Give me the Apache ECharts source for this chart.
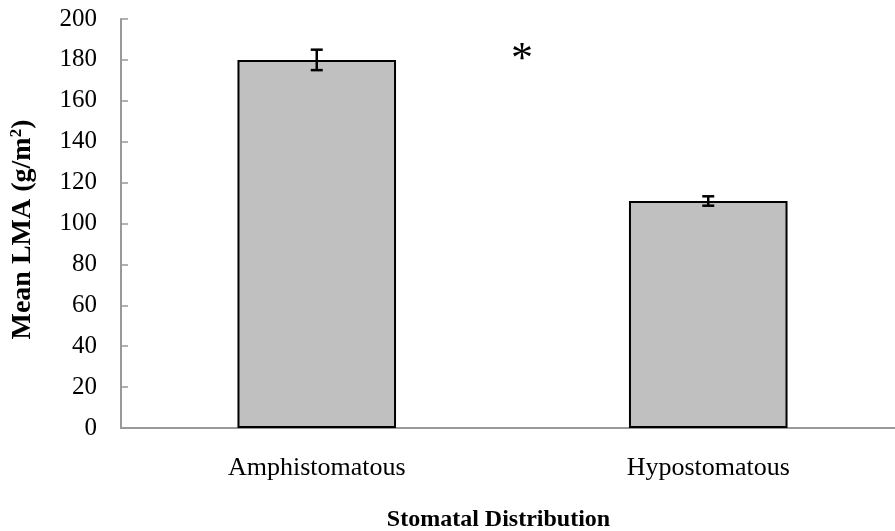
<!DOCTYPE html>
<html>
<head>
<meta charset="utf-8">
<script src="https://cdn.jsdelivr.net/npm/echarts@6/dist/echarts.min.js"></script>
<style>html,body{margin:0;padding:0;background:#fff}#c{width:895px;height:531px}</style>
</head>
<body>
<div id="c"></div>
<script>
var categories = ['Amphistomatous', 'Hypostomatous'];
var meanLMA = [180, 111];
var errLMA = [5, 2.3];
var yTicks = [0, 20, 40, 60, 80, 100, 120, 140, 160, 180, 200];

var FONT = '"Liberation Serif", "Times New Roman", serif';
var chart = echarts.init(document.getElementById('c'));
var errData = categories.map(function (c, i) { return [i, meanLMA[i] - errLMA[i], meanLMA[i] + errLMA[i]]; });

chart.setOption({
  animation: false,
  grid: { left: 121, top: 19, bottom: 103, right: -9, containLabel: false, outerBoundsMode: 'none' },
  xAxis: {
    type: 'category',
    data: categories,
    axisLine: { lineStyle: { color: '#999', width: 2 } },
    axisTick: { inside: true, length: 6, lineStyle: { color: '#999', width: 1.5 } },
    axisLabel: { color: '#000', fontFamily: FONT, fontSize: 26, margin: 27 },
    name: 'Stomatal Distribution',
    nameLocation: 'middle',
    nameGap: 80,
    nameTextStyle: { color: '#000', fontFamily: FONT, fontSize: 24, fontWeight: 'bold', padding: [0, 28, 0, 0] }
  },
  yAxis: {
    type: 'value',
    min: yTicks[0], max: yTicks[yTicks.length - 1], interval: 20,
    splitLine: { show: false },
    axisLine: { show: true, lineStyle: { color: '#999', width: 2 } },
    axisTick: { show: true, inside: true, length: 7, lineStyle: { color: '#999', width: 1.5 } },
    axisLabel: { color: '#000', fontFamily: FONT, fontSize: 25, margin: 24 },
    name: '{a|Mean LMA (g/m}{s|2}{a|)}',
    nameLocation: 'middle',
    nameGap: 84,
    nameTextStyle: {
      padding: [0, 12, 0, 0],
      rich: {
        a: { color: '#000', fontFamily: FONT, fontSize: 28, fontWeight: 'bold' },
        s: { color: '#000', fontFamily: FONT, fontSize: 17, fontWeight: 'bold', verticalAlign: 'top', padding: [0, 0, 12, 0] }
      }
    }
  },
  series: [
    {
      type: 'bar',
      data: meanLMA,
      barWidth: '40.5%',
      itemStyle: { color: '#c0c0c0', borderColor: '#000', borderWidth: 2 }
    },
    {
      type: 'custom',
      data: errData,
      z: 10,
      renderItem: function (params, api) {
        var x = api.value(0);
        var lo = api.coord([x, api.value(1)]);
        var hi = api.coord([x, api.value(2)]);
        var hw = 6;
        var st = { stroke: '#000', lineWidth: 2.5 };
        return {
          type: 'group',
          children: [
            { type: 'line', shape: { x1: lo[0], y1: lo[1], x2: hi[0], y2: hi[1] }, style: st },
            { type: 'line', shape: { x1: lo[0] - hw, y1: lo[1], x2: lo[0] + hw, y2: lo[1] }, style: st },
            { type: 'line', shape: { x1: hi[0] - hw, y1: hi[1], x2: hi[0] + hw, y2: hi[1] }, style: st }
          ]
        };
      }
    }
  ],
  graphic: [
    { type: 'text', left: 511, top: 38, style: { text: '*', fontFamily: FONT, fontSize: 44, fill: '#000' } }
  ]
});
</script>
</body>
</html>
